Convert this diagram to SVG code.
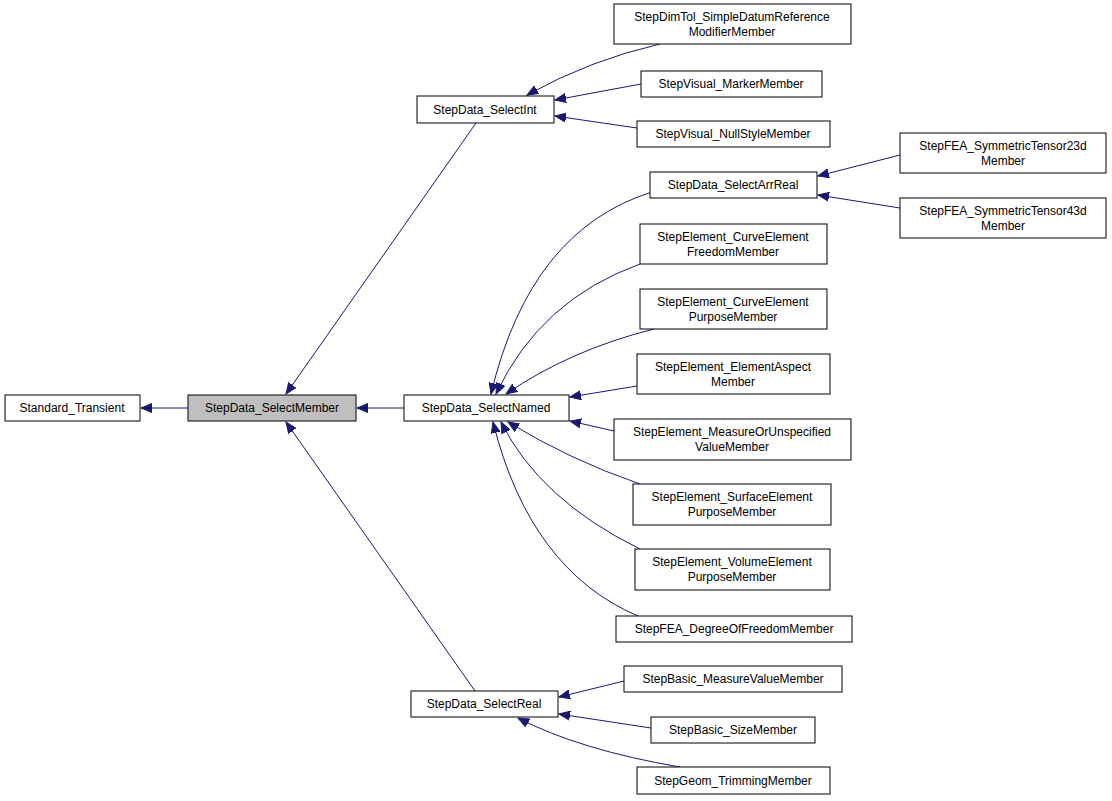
<svg xmlns="http://www.w3.org/2000/svg" width="1112" height="801" viewBox="0 0 1112 801">
<style>
.n rect{fill:#fff;stroke:#000;stroke-width:1}
.n text{font-family:"Liberation Sans",Arial,sans-serif;font-size:12px;text-anchor:middle;fill:#000}
#edges path{fill:none;stroke:#191970;stroke-width:1;marker-end:url(#a)}
</style>
<defs><marker id="a" markerWidth="12" markerHeight="10" refX="11" refY="5" orient="auto" markerUnits="userSpaceOnUse"><path d="M0,0.5 L11,5 L0,9.5 Z" fill="#191970" stroke="#191970"/></marker></defs>
<rect width="1112" height="801" fill="#fff"/>
<g id="edges">
<path d="M188,408 L141,408"/>
<path d="M476,123 L286,394"/>
<path d="M404,408 L357,408"/>
<path d="M475,691 L286,422"/>
<path d="M660,44 Q590,60 527,95"/>
<path d="M641,84 L555,100"/>
<path d="M637,128 L555,116"/>
<path d="M900,155 L818,176"/>
<path d="M900,208 L818,195"/>
<path d="M652,192 Q530,230 491,394"/>
<path d="M640,264 Q540,300 496,394"/>
<path d="M654,329 Q570,350 506,394"/>
<path d="M637,386 L570,397"/>
<path d="M614,431 L570,421"/>
<path d="M640,484 Q570,460 508,422"/>
<path d="M640,549 Q540,500 501,422"/>
<path d="M638,616 Q530,570 493,422"/>
<path d="M624,681 L559,697"/>
<path d="M651,728 L559,714"/>
<path d="M680,767 Q580,750 518,718"/>
</g>
<g id="n1" class="n"><rect x="5" y="395" width="135" height="26"/><text x="72" y="412">Standard_Transient</text></g>
<g id="n2" class="n"><rect x="188" y="395" width="168" height="26" style="fill:#bfbfbf"/><text x="272" y="412">StepData_SelectMember</text></g>
<g id="n3" class="n"><rect x="417" y="96" width="137" height="27"/><text x="485" y="114">StepData_SelectInt</text></g>
<g id="n4" class="n"><rect x="404" y="395" width="165" height="26"/><text x="486" y="412">StepData_SelectNamed</text></g>
<g id="n5" class="n"><rect x="411" y="691" width="147" height="26"/><text x="484" y="708">StepData_SelectReal</text></g>
<g id="n6" class="n"><rect x="614" y="4" width="237" height="40"/><text x="732" y="21">StepDimTol_SimpleDatumReference</text><text x="732" y="36">ModifierMember</text></g>
<g id="n7" class="n"><rect x="641" y="71" width="181" height="26"/><text x="731" y="88">StepVisual_MarkerMember</text></g>
<g id="n8" class="n"><rect x="637" y="121" width="193" height="26"/><text x="733" y="138">StepVisual_NullStyleMember</text></g>
<g id="n9" class="n"><rect x="650" y="172" width="167" height="26"/><text x="733" y="189">StepData_SelectArrReal</text></g>
<g id="n10" class="n"><rect x="900" y="133" width="206" height="40"/><text x="1003" y="150">StepFEA_SymmetricTensor23d</text><text x="1003" y="165">Member</text></g>
<g id="n11" class="n"><rect x="900" y="198" width="206" height="40"/><text x="1003" y="215">StepFEA_SymmetricTensor43d</text><text x="1003" y="230">Member</text></g>
<g id="n12" class="n"><rect x="640" y="224" width="187" height="40"/><text x="733" y="241">StepElement_CurveElement</text><text x="733" y="256">FreedomMember</text></g>
<g id="n13" class="n"><rect x="640" y="289" width="187" height="40"/><text x="733" y="306">StepElement_CurveElement</text><text x="733" y="321">PurposeMember</text></g>
<g id="n14" class="n"><rect x="637" y="354" width="193" height="40"/><text x="733" y="371">StepElement_ElementAspect</text><text x="733" y="386">Member</text></g>
<g id="n15" class="n"><rect x="614" y="419" width="237" height="41"/><text x="732" y="436">StepElement_MeasureOrUnspecified</text><text x="732" y="451">ValueMember</text></g>
<g id="n16" class="n"><rect x="633" y="484" width="198" height="41"/><text x="732" y="501">StepElement_SurfaceElement</text><text x="732" y="516">PurposeMember</text></g>
<g id="n17" class="n"><rect x="635" y="549" width="195" height="41"/><text x="732" y="566">StepElement_VolumeElement</text><text x="732" y="581">PurposeMember</text></g>
<g id="n18" class="n"><rect x="616" y="616" width="236" height="26"/><text x="734" y="633">StepFEA_DegreeOfFreedomMember</text></g>
<g id="n19" class="n"><rect x="624" y="666" width="218" height="26"/><text x="733" y="683">StepBasic_MeasureValueMember</text></g>
<g id="n20" class="n"><rect x="651" y="717" width="164" height="26"/><text x="733" y="734">StepBasic_SizeMember</text></g>
<g id="n21" class="n"><rect x="637" y="767" width="193" height="27"/><text x="733" y="785">StepGeom_TrimmingMember</text></g>
</svg>
